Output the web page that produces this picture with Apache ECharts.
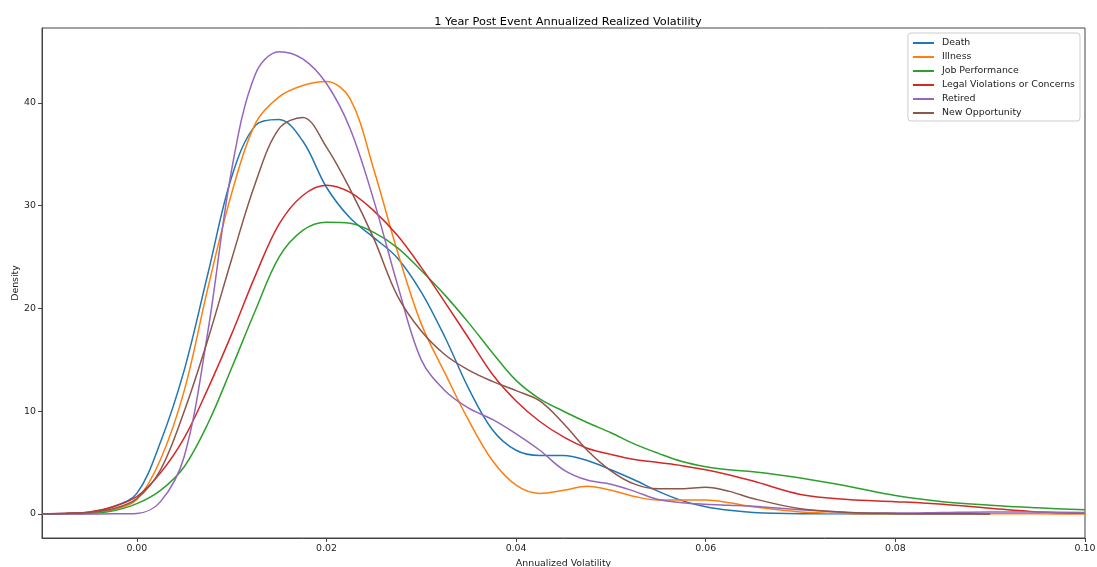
<!DOCTYPE html>
<html>
<head>
<meta charset="utf-8">
<script src="https://cdn.jsdelivr.net/npm/echarts@6/dist/echarts.min.js"></script>
<style>
html,body{margin:0;padding:0;background:#fff;}
#c{width:1097px;height:567px;}
</style>
</head>
<body>
<div id="c"></div>
<script>
const xs = [-0.01, -0.0075, -0.005, -0.0025, 0, 0.0025, 0.005, 0.0075, 0.01, 0.0125, 0.015, 0.0175, 0.02, 0.0225, 0.025, 0.0275, 0.03, 0.0325, 0.035, 0.0375, 0.04, 0.0425, 0.045, 0.0475, 0.05, 0.0525, 0.055, 0.0575, 0.06, 0.0625, 0.065, 0.07, 0.075, 0.08, 0.085, 0.09, 0.095, 0.1];
const death = [0.02, 0.05, 0.15, 0.7, 2.0, 7.0, 14.0, 23.4, 32.8, 37.8, 38.4, 36.3, 31.8, 28.8, 26.9, 24.9, 21.6, 17.2, 12.2, 8.2, 6.2, 5.7, 5.7, 5.2, 4.3, 3.3, 2.2, 1.3, 0.7, 0.35, 0.15, 0.03, 0.01, 0, 0, 0];
const illness = [0, 0.03, 0.1, 0.4, 1.4, 5.3, 12.0, 22.0, 31.2, 38.0, 40.6, 41.7, 42.1, 40.4, 33.5, 25.5, 18.5, 13.7, 9.1, 5.2, 2.8, 2.0, 2.3, 2.7, 2.3, 1.7, 1.35, 1.35, 1.35, 1.1, 0.7, 0.2, 0.05, 0.02, 0.02, 0.02, 0.01, 0];
const jobPerformance = [0, 0.02, 0.05, 0.3, 1.0, 2.3, 4.6, 8.8, 14.2, 19.8, 25.0, 27.6, 28.4, 28.3, 27.4, 25.9, 23.7, 21.3, 18.6, 15.7, 13.0, 11.2, 10.0, 8.9, 7.9, 6.8, 5.9, 5.1, 4.6, 4.3, 4.1, 3.5, 2.7, 1.8, 1.2, 0.85, 0.6, 0.4];
const legal = [0, 0.08, 0.2, 0.7, 1.7, 4.0, 7.4, 12.2, 17.5, 23.2, 28.2, 31.0, 32.0, 31.3, 29.5, 27.1, 24.0, 20.6, 17.1, 13.6, 11.0, 9.0, 7.5, 6.4, 5.8, 5.3, 5.0, 4.7, 4.3, 3.8, 3.2, 1.9, 1.4, 1.2, 0.95, 0.55, 0.2, 0.1];
const retired = [0, 0, 0, 0.01, 0.05, 1.2, 5.6, 17.8, 33.5, 42.8, 45.0, 44.3, 41.9, 37.5, 30.5, 22.3, 15.0, 12.0, 10.3, 9.2, 7.8, 6.2, 4.3, 3.3, 2.9, 2.2, 1.4, 1.1, 0.95, 0.85, 0.75, 0.4, 0.15, 0.1, 0.15, 0.2, 0.2, 0.15];
const newOpportunity = [0.02, 0.05, 0.15, 0.5, 1.5, 4.3, 10.0, 17.0, 24.8, 32.2, 37.5, 38.6, 35.7, 31.6, 26.8, 21.2, 17.8, 15.5, 14.0, 12.9, 12.0, 11.0, 8.8, 6.2, 4.2, 2.9, 2.45, 2.45, 2.6, 2.2, 1.5, 0.5, 0.15, 0.05, 0.02, 0];
const seriesNames = ['Death', 'Illness', 'Job Performance', 'Legal Violations or Concerns', 'Retired', 'New Opportunity'];
const seriesValues = [death, illness, jobPerformance, legal, retired, newOpportunity];
const colors = ['#1f77b4', '#ff7f0e', '#2ca02c', '#d62728', '#9467bd', '#8c564b'];
const xTicks = [0, 0.02, 0.04, 0.06, 0.08, 0.10];
const yTicks = [0, 10, 20, 30, 40];

const font = 'DejaVu Sans';
const fs = 9.4;
const chart = echarts.init(document.getElementById('c'), null, {renderer: 'canvas'});
chart.setOption({
  animation: false,
  backgroundColor: '#fff',
  color: colors,
  title: {
    text: '1 Year Post Event Annualized Realized Volatility',
    left: 563, top: 12, textAlign: 'center',
    textStyle: {fontFamily: font, fontSize: 11.3, fontWeight: 'normal', color: '#000'}
  },
  grid: {left: 42, right: 12, top: 28, bottom: 29, show: true, borderColor: '#444', borderWidth: 1,
    containLabel: false, outerBoundsMode: 'none'},
  legend: {
    orient: 'vertical', right: 17, top: 33,
    backgroundColor: '#fff', borderColor: '#ccc', borderWidth: 1, borderRadius: 3,
    padding: [5, 5, 3, 5],
    icon: 'rect',
    itemWidth: 21, itemHeight: 2, itemGap: 4,
    textStyle: {fontFamily: font, fontSize: fs, color: '#222', lineHeight: 10, padding: [0, 0, 0, 3]},
    data: seriesNames
  },
  xAxis: {
    type: 'value', min: -0.01, max: 0.1,
    name: 'Annualized Volatility', nameLocation: 'middle', nameGap: 21,
    nameTextStyle: {fontFamily: font, fontSize: fs, color: '#222'},
    axisLine: {show: true, onZero: false, lineStyle: {color: '#444', width: 1}},
    axisTick: {show: true, inside: false, length: 4, lineStyle: {color: '#444'}, customValues: xTicks},
    axisLabel: {fontFamily: font, fontSize: fs, color: '#222', margin: 6, customValues: xTicks,
      formatter: v => v.toFixed(2)},
    splitLine: {show: false}
  },
  yAxis: {
    type: 'value', min: -2.34, max: 47.3,
    name: 'Density', nameLocation: 'middle', nameGap: 22, nameRotate: 90, nameMoveOverlap: false,
    nameTextStyle: {fontFamily: font, fontSize: fs, color: '#222'},
    axisLine: {show: true, onZero: false, lineStyle: {color: '#444', width: 1}},
    axisTick: {show: true, inside: false, length: 4, lineStyle: {color: '#444'}, customValues: yTicks},
    axisLabel: {fontFamily: font, fontSize: fs, color: '#222', margin: 6, customValues: yTicks,
      formatter: v => String(Math.round(v))},
    splitLine: {show: false}
  },
  series: seriesNames.map((name, i) => ({
    name: name,
    type: 'line',
    smooth: 0.35,
    symbol: 'none',
    clip: true,
    lineStyle: {width: 1.5, color: colors[i]},
    itemStyle: {color: colors[i]},
    data: seriesValues[i].map((v, j) => [xs[j], v])
  }))
});
</script>
</body>
</html>
